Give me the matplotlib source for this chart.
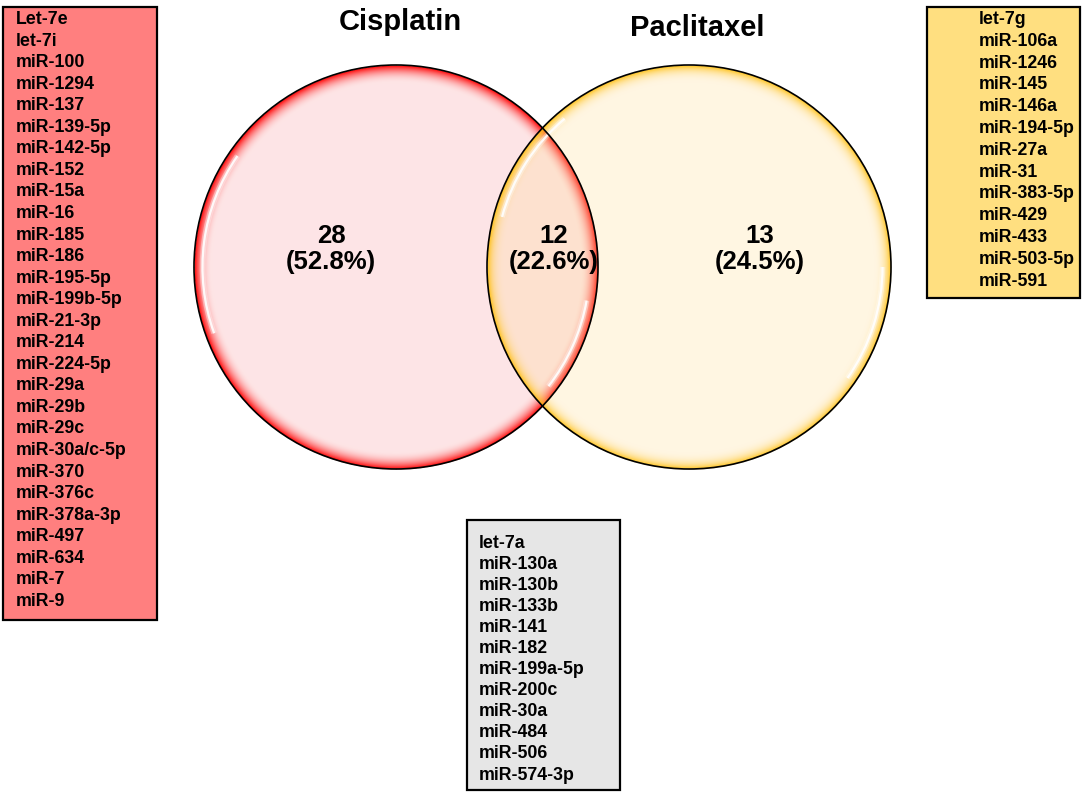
import numpy as np
import matplotlib.pyplot as plt
from matplotlib.patches import Circle, Arc, Rectangle

plt.rcParams['font.family'] = ['Liberation Sans', 'DejaVu Sans']

# data
sets = ['Cisplatin', 'Paclitaxel']
counts = [28, 12, 13]   # cisplatin only, both, paclitaxel only
total = sum(counts)

cis_only = ['Let-7e', 'let-7i', 'miR-100', 'miR-1294', 'miR-137', 'miR-139-5p',
            'miR-142-5p', 'miR-152', 'miR-15a', 'miR-16', 'miR-185', 'miR-186',
            'miR-195-5p', 'miR-199b-5p', 'miR-21-3p', 'miR-214', 'miR-224-5p',
            'miR-29a', 'miR-29b', 'miR-29c', 'miR-30a/c-5p', 'miR-370', 'miR-376c',
            'miR-378a-3p', 'miR-497', 'miR-634', 'miR-7', 'miR-9']
pac_only = ['let-7g', 'miR-106a', 'miR-1246', 'miR-145', 'miR-146a', 'miR-194-5p',
            'miR-27a', 'miR-31', 'miR-383-5p', 'miR-429', 'miR-433', 'miR-503-5p',
            'miR-591']
both = ['let-7a', 'miR-130a', 'miR-130b', 'miR-133b', 'miR-141', 'miR-182',
        'miR-199a-5p', 'miR-200c', 'miR-30a', 'miR-484', 'miR-506', 'miR-574-3p']

W, H = 1084, 795
fig = plt.figure(figsize=(W / 100, H / 100), dpi=100)
ax = fig.add_axes([0, 0, 1, 1])
ax.set_xlim(0, W)
ax.set_ylim(H, 0)
ax.axis('off')

R = 202
centers = [(396, 267), (689, 267)]


def disc(cx, cy, pale, rim, a_in, a_rim):
    x0, x1 = cx - R - 2, cx + R + 2
    y0, y1 = cy - R - 2, cy + R + 2
    X, Y = np.meshgrid(np.arange(x0, x1, 0.5), np.arange(y0, y1, 0.5))
    r = np.hypot(X - cx, Y - cy) / R
    t = np.clip((r - 0.91) / 0.09, 0, 1) ** 2.2
    img = np.zeros(X.shape + (4,))
    for k in range(3):
        img[..., k] = pale[k] * (1 - t) + rim[k] * t
    img[..., 3] = np.where(r <= 1, a_in * (1 - t) + a_rim * t, 0)
    ax.imshow(img, extent=(x0, x1, y1, y0), interpolation='bilinear', zorder=1)


disc(*centers[0], (0.993, 0.898, 0.902), (1.0, 0.0, 0.0), 1.0, 1.0)
disc(*centers[1], (1.0, 0.86, 0.55), (1.0, 0.74, 0.0), 0.25, 0.92)

arcs = [[(160, 215), (10, 38)], [(195, 230), (0, 35)]]
for (cx, cy), spans in zip(centers, arcs):
    for t1, t2 in spans:
        ax.add_patch(Arc((cx, cy), 2 * R * 0.958, 2 * R * 0.958, theta1=t1, theta2=t2,
                         color='white', lw=4, alpha=0.35, zorder=2))
        ax.add_patch(Arc((cx, cy), 2 * R * 0.958, 2 * R * 0.958, theta1=t1, theta2=t2,
                         color='white', lw=1.6, alpha=0.9, zorder=2))
    ax.add_patch(Circle((cx, cy), R, fill=False, ec='black', lw=1.2, zorder=3))

ax.text(400, 22, sets[0], ha='center', va='center', fontsize=21, fontweight='bold')
ax.text(697, 28, sets[1], ha='center', va='center', fontsize=21, fontweight='bold')

for xpos, n in zip([331, 554, 760], counts):
    ax.text(xpos, 249, f'{n}\n({100 * n / total:.1f}%)', ha='center', va='center',
            fontsize=18.5, fontweight='bold', linespacing=1.15, zorder=4)


def listbox(x0, y0, x1, y1, color, tx, ty, step, names):
    ax.add_patch(Rectangle((x0, y0), x1 - x0, y1 - y0, fc=color, ec='black', lw=1.6, zorder=1))
    for i, name in enumerate(names):
        ax.text(tx, ty + i * step, name, ha='left', va='center', fontsize=12.8,
                fontweight='bold', color='black', zorder=2)


listbox(3, 7, 157, 620, '#ff7f7f', 16, 19.5, 21.55, cis_only)
listbox(927, 7, 1080, 298, '#ffdf80', 979, 19.5, 21.8, pac_only)
listbox(467, 520, 620, 790, '#e6e6e6', 479, 543, 21.1, both)

fig.savefig('out.png', dpi=100)
